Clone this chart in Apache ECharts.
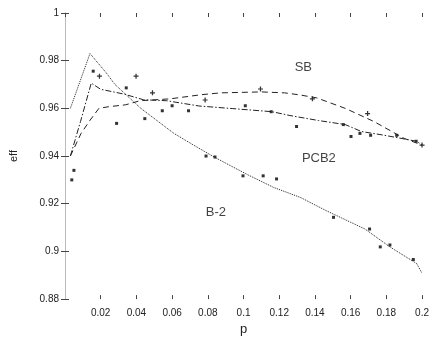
<!DOCTYPE html>
<html>
<head>
<meta charset="utf-8">
<script src="https://cdn.jsdelivr.net/npm/echarts@6/dist/echarts.min.js"></script>
<style>
  html, body { margin: 0; padding: 0; background: #fff; }
  #chart { width: 432px; height: 341px; }
</style>
</head>
<body>
<div id="chart"></div>
<script>
// fitted curves
const b2P = [0.003, 0.014, 0.023, 0.028, 0.0425, 0.061, 0.072, 0.0845, 0.1025, 0.117, 0.132, 0.146, 0.168, 0.182, 0.197, 0.2];
const b2V = [0.960, 0.983, 0.975, 0.970, 0.960, 0.9495, 0.9446, 0.9392, 0.9321, 0.9268, 0.9226, 0.9172, 0.9094, 0.9019, 0.8949, 0.8908];

const sbP = [0.003, 0.009, 0.014, 0.019, 0.0245, 0.034, 0.042, 0.059, 0.076, 0.087, 0.11, 0.123, 0.131, 0.141, 0.157, 0.173, 0.19, 0.2];
const sbV = [0.940, 0.9495, 0.955, 0.960, 0.9607, 0.9615, 0.9632, 0.964, 0.9657, 0.9665, 0.9669, 0.9665, 0.9657, 0.9644, 0.960, 0.9545, 0.9474, 0.9446];

const pcbP = [0.003, 0.0087, 0.0147, 0.020, 0.033, 0.044, 0.057, 0.075, 0.094, 0.116, 0.126, 0.142, 0.157, 0.166, 0.179, 0.197, 0.2];
const pcbV = [0.940, 0.9545, 0.9706, 0.968, 0.966, 0.9636, 0.9632, 0.961, 0.9599, 0.9586, 0.957, 0.9549, 0.9532, 0.9503, 0.9487, 0.9462, 0.9446];

// measured points
const b2PtP = [0.0038, 0.005, 0.0158, 0.0289, 0.0447, 0.079, 0.084, 0.0997, 0.111, 0.1185, 0.1504, 0.1706, 0.1766, 0.182, 0.1951, 0.2011];
const b2PtV = [0.930, 0.934, 0.9756, 0.9537, 0.9557, 0.940, 0.9396, 0.9317, 0.9317, 0.9304, 0.9143, 0.9094, 0.9019, 0.9027, 0.8966, 0.8908];

const sbPtP = [0.0193, 0.0398, 0.049, 0.0785, 0.1095, 0.1386, 0.1695, 0.2];
const sbPtV = [0.9735, 0.9735, 0.9665, 0.9635, 0.9681, 0.9640, 0.9578, 0.9446];

const pcbPtP = [0.0343, 0.0545, 0.06, 0.0692, 0.101, 0.1155, 0.1297, 0.1559, 0.1602, 0.1652, 0.1712, 0.1858, 0.1967];
const pcbPtV = [0.9686, 0.959, 0.9611, 0.9590, 0.9611, 0.9586, 0.9524, 0.9532, 0.9482, 0.9495, 0.9487, 0.9487, 0.9462];

const labelNames = ['SB', 'PCB2', 'B-2'];
const labelP = [0.1335, 0.1422, 0.0845];
const labelV = [0.9772, 0.9391, 0.9164];

const pair = (xs, ys) => xs.map((x, i) => [x, ys[i]]);
const fmt = v => String(+v.toFixed(2));

const chart = echarts.init(document.getElementById('chart'));

const lineSeries = (data, dash) => ({
  type: 'line',
  data: data,
  showSymbol: false,
  smooth: false,
  silent: true,
  lineStyle: { color: '#222', width: 1, type: dash }
});

const pointSeries = (data, symbol, size) => ({
  type: 'scatter',
  data: data,
  symbol: symbol,
  symbolSize: size,
  silent: true,
  itemStyle: { color: '#000' }
});

const crossPath = 'path://M0,3.5L8,3.5L8,5.5L0,5.5ZM3,0L5,0L5,9L3,9Z';

chart.setOption({
  animation: false,
  textStyle: { fontFamily: 'Liberation Sans, Arial, sans-serif' },
  grid: { left: 55, right: 7, top: 13, bottom: 38 },
  xAxis: [{
    type: 'value',
    min: 0, max: 0.2, interval: 0.02,
    name: 'p', nameLocation: 'middle', nameGap: 20,
    nameTextStyle: { fontSize: 13, color: '#222' },
    axisLine: { show: false },
    axisTick: { inside: true, length: 4, lineStyle: { color: '#444' } },
    axisLabel: { fontSize: 10, color: '#222', margin: 9, showMinLabel: false, formatter: fmt },
    splitLine: { show: false }
  }, {
    type: 'value', position: 'top',
    min: 0, max: 0.2, interval: 0.02,
    axisLine: { show: false },
    axisTick: { inside: true, length: 4, lineStyle: { color: '#444' } },
    axisLabel: { show: false },
    splitLine: { show: false }
  }],
  yAxis: [{
    type: 'value',
    min: 0.88, max: 1, interval: 0.02,
    name: 'eff', nameLocation: 'middle', nameGap: 46, nameRotate: 90,
    nameTextStyle: { fontSize: 11, color: '#222' },
    axisLine: { show: true, lineStyle: { color: '#bbb' } },
    axisTick: { inside: true, length: 4, lineStyle: { color: '#444' } },
    axisLabel: { fontSize: 10, color: '#222', margin: 6, formatter: fmt },
    splitLine: { show: false }
  }, {
    type: 'value', position: 'right',
    min: 0.88, max: 1, interval: 0.02,
    axisLine: { show: true, lineStyle: { color: '#bbb' } },
    axisTick: { inside: true, length: 4, lineStyle: { color: '#444' } },
    axisLabel: { show: false },
    splitLine: { show: false }
  }],
  series: [
    lineSeries(pair(b2P, b2V), 'dotted'),
    lineSeries(pair(sbP, sbV), [6, 4]),
    lineSeries(pair(pcbP, pcbV), [6, 2, 1.5, 2]),
    pointSeries(pair(b2PtP, b2PtV), 'rect', 3),
    pointSeries(pair(sbPtP, sbPtV), crossPath, 5),
    pointSeries(pair(pcbPtP, pcbPtV), 'rect', 3),
    {
      type: 'scatter',
      data: labelNames.map((n, i) => ({ name: n, value: [labelP[i], labelV[i]] })),
      symbolSize: 0,
      silent: true,
      label: {
        show: true, position: 'inside', formatter: '{b}',
        fontSize: 13, color: '#111'
      }
    }
  ]
});
</script>
</body>
</html>
